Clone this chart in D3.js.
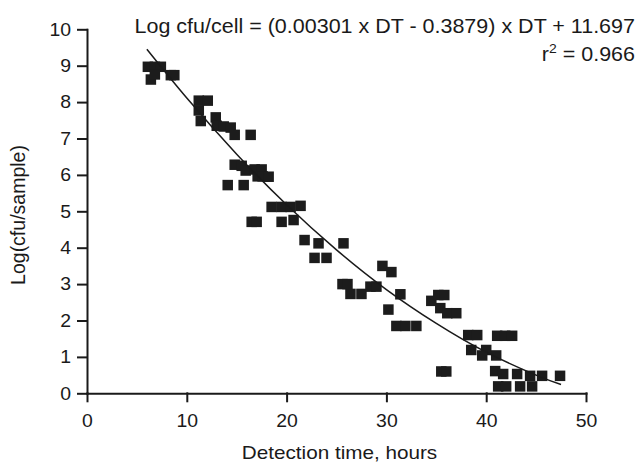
<!DOCTYPE html>
<html>
<head>
<meta charset="utf-8">
<script src="https://cdn.jsdelivr.net/npm/d3@7"></script>
<style>
  body { margin: 0; background: #fff; }
  text { font-family: "Liberation Sans", Arial, sans-serif; fill: #1a1a1a; }
</style>
</head>
<body>
<div id="chart"></div>
<script>
// Values
var detectTime = [6.1, 6.8, 7.4, 6.4, 6.8, 8.4, 8.75, 11.2, 12.1, 11.2, 11.4, 12.9, 13.0, 13.7, 14.4, 14.8, 16.4,
    14.8, 15.5, 15.9, 16.8, 17.5, 17.1, 17.6, 18.2, 14.1, 15.7, 18.5, 19.5, 20.4, 21.4, 16.5, 17.0, 19.5, 20.7,
    21.8, 23.2, 25.7, 22.8, 24.0, 25.6, 26.1, 26.4, 27.5, 28.4, 29.0, 29.6, 30.5, 31.4, 30.2, 31.0, 31.9, 33.0,
    34.5, 35.2, 35.8, 35.4, 36.1, 37.0, 35.5, 36.0, 38.2, 39.1, 41.1, 41.9, 42.6, 38.5, 40.0, 39.6, 41.0,
    40.9, 41.7, 43.1, 44.4, 45.6, 47.4, 41.2, 42.0, 43.4, 44.6];
var logCfu = [8.97, 8.97, 8.97, 8.62, 8.76, 8.74, 8.74, 8.04, 8.04, 7.77, 7.48, 7.58, 7.35, 7.33, 7.30, 7.10, 7.10,
    6.28, 6.25, 6.12, 6.15, 6.15, 5.96, 5.96, 5.95, 5.72, 5.72, 5.12, 5.12, 5.12, 5.15, 4.71, 4.71, 4.71, 4.76,
    4.21, 4.12, 4.12, 3.72, 3.72, 3.0, 3.0, 2.73, 2.73, 2.93, 2.93, 3.5, 3.33, 2.72, 2.3, 1.85, 1.85, 1.85,
    2.54, 2.70, 2.70, 2.34, 2.20, 2.20, 0.60, 0.60, 1.60, 1.60, 1.58, 1.58, 1.58, 1.19, 1.19, 1.04, 1.04,
    0.61, 0.53, 0.53, 0.48, 0.48, 0.48, 0.19, 0.19, 0.19, 0.19];

// fitted curve as it is drawn in the picture
var trendX = [6, 10, 15, 20, 25, 30, 35, 40, 45, 47.5];
var trendY = [9.45, 8.11, 6.57, 5.18, 3.94, 2.85, 1.92, 1.13, 0.50, 0.24];

var xTicks = [0, 10, 20, 30, 40, 50];
var yTicks = [0, 1, 2, 3, 4, 5, 6, 7, 8, 9, 10];

var eqText = "Log cfu/cell = (0.00301 x DT - 0.3879) x DT + 11.697";
var r2Value = "0.966";
var xTitle = "Detection time, hours";
var yTitle = "Log(cfu/sample)";

var w = 639, h = 463;
var stretch = 1.08;   // text in the picture is a bit wide

var xScale = d3.scaleLinear().domain([0, 50]).range([87, 586]);
var yScale = d3.scaleLinear().domain([0, 10]).range([393.3, 29.3]);

var svg = d3.select("#chart")
    .append("svg")
    .attr("width", w)
    .attr("height", h);

// X axis
var xAxis = d3.axisBottom(xScale)
    .tickValues(xTicks)
    .tickSize(8)
    .tickSizeOuter(0)
    .tickPadding(13);

var gx = svg.append("g")
    .attr("transform", "translate(0," + yScale(0) + ")")
    .call(xAxis);

// Y axis
var yAxis = d3.axisLeft(yScale)
    .tickValues(yTicks)
    .tickSize(9)
    .tickSizeOuter(0)
    .tickPadding(7);

var gy = svg.append("g")
    .attr("transform", "translate(" + xScale(0) + ",0)")
    .call(yAxis);

[gx, gy].forEach(function(g) {
    g.selectAll("path, line")
        .attr("stroke", "#1a1a1a")
        .attr("stroke-width", 2)
        .attr("stroke-linecap", "square");
    g.selectAll("text")
        .style("font-size", "18px")
        .attr("fill", "#1a1a1a");
});

gx.selectAll(".tick text")
    .attr("transform", "scale(" + stretch + ",1)");

gy.selectAll(".tick text")
    .attr("x", -16 / stretch)
    .attr("transform", "scale(" + stretch + ",1)");

// points
var size = 10.5;
svg.append("g")
    .selectAll("rect")
    .data(detectTime)
    .enter()
    .append("rect")
        .attr("x", function(d) { return xScale(d) - size / 2; })
        .attr("y", function(d, i) { return yScale(logCfu[i]) - size / 2; })
        .attr("width", size)
        .attr("height", size)
        .style("fill", "#1c1c1c");

// trend curve
var line = d3.line()
    .x(function(d) { return xScale(d); })
    .y(function(d, i) { return yScale(trendY[i]); })
    .curve(d3.curveNatural);

svg.append("path")
    .datum(trendX)
    .attr("d", line)
    .attr("fill", "none")
    .attr("stroke", "#1a1a1a")
    .attr("stroke-width", 1.5);

// equation text
var eqStretch = 1.075;
svg.append("text")
    .attr("x", 635 / eqStretch)
    .attr("y", 33)
    .attr("text-anchor", "end")
    .attr("transform", "scale(" + eqStretch + ",1)")
    .style("font-size", "20px")
    .text(eqText);

var r2 = svg.append("text")
    .attr("x", 635 / eqStretch)
    .attr("y", 61.5)
    .attr("text-anchor", "end")
    .attr("transform", "scale(" + eqStretch + ",1)")
    .style("font-size", "20px");
r2.append("tspan").text("r");
r2.append("tspan")
    .attr("dy", -8)
    .style("font-size", "13px")
    .text("2");
r2.append("tspan")
    .attr("dy", 8)
    .text(" = " + r2Value);

// axis titles
svg.append("text")
    .attr("x", 339.5 / 1.15)
    .attr("y", 459)
    .attr("text-anchor", "middle")
    .attr("transform", "scale(1.15,1)")
    .style("font-size", "18px")
    .text(xTitle);

svg.append("text")
    .attr("transform", "translate(25,215) rotate(-90)")
    .attr("text-anchor", "middle")
    .style("font-size", "19.5px")
    .text(yTitle);
</script>
</body>
</html>
